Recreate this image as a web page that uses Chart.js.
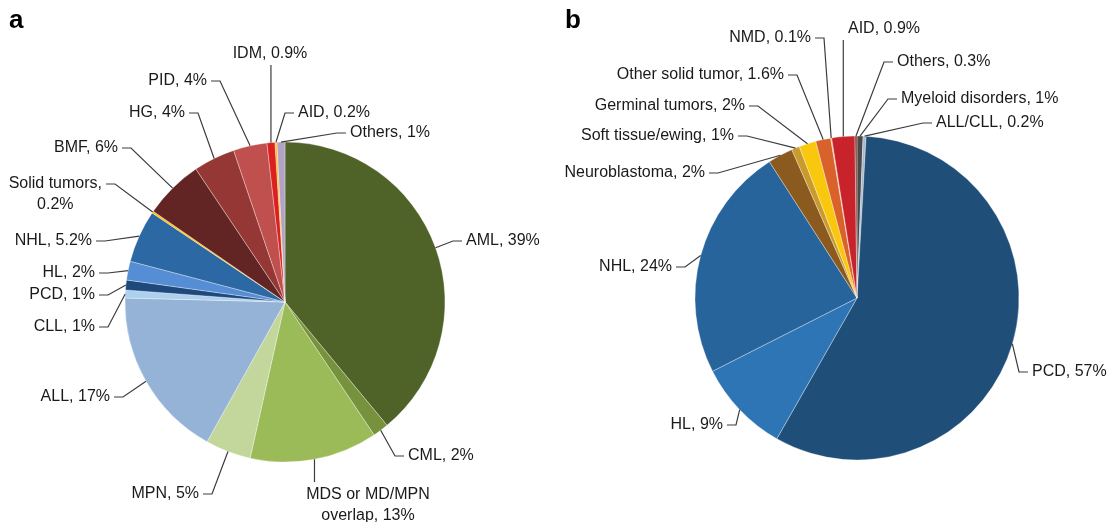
<!DOCTYPE html>
<html>
<head>
<meta charset="utf-8">
<script src="https://cdn.jsdelivr.net/npm/chart.js@4.4.1/dist/chart.umd.min.js"></script>
<style>
  html, body { margin: 0; padding: 0; background: #fff; }
  body { width: 1110px; height: 522px; position: relative; overflow: hidden; font-family: "Liberation Sans", Arial, sans-serif; }
  .panel { position: absolute; top: 0; width: 555px; height: 522px; }
  .tag { position: absolute; top: 6px; font-weight: bold; font-size: 26px; line-height: 26px; color: #000; }
</style>
</head>
<body>
<div class="panel" style="left:0"><canvas id="chartA" width="555" height="522"></canvas></div>
<div class="panel" style="left:555px"><canvas id="chartB" width="555" height="522"></canvas></div>
<div class="tag" style="left:9px">a</div>
<div class="tag" style="left:565px">b</div>

<script>
// panel a - clockwise from 12 o'clock
const categoriesA = ['AML', 'CML', 'MDS or MD/MPN overlap', 'MPN', 'ALL', 'CLL', 'PCD', 'HL', 'NHL',
  'Solid tumors', 'BMF', 'HG', 'PID', 'IDM', 'AID', 'Others'];
const valuesA = [39, 1.6, 12.9, 4.6, 17.3, 0.8, 1, 1.9, 5.3, 0.2, 6, 4.2, 3.4, 0.8, 0.2, 0.8];
const labelTextA = ['AML, 39%', 'CML, 2%', 'MDS or MD/MPN\noverlap, 13%', 'MPN, 5%', 'ALL, 17%', 'CLL, 1%',
  'PCD, 1%', 'HL, 2%', 'NHL, 5.2%', 'Solid tumors,\n0.2%', 'BMF, 6%', 'HG, 4%', 'PID, 4%', 'IDM, 0.9%',
  'AID, 0.2%', 'Others, 1%'];

// panel b - clockwise from 12 o'clock
const categoriesB = ['Myeloid disorders', 'ALL/CLL', 'PCD', 'HL', 'NHL', 'Neuroblastoma', 'Soft tissue/ewing',
  'Germinal tumors', 'Other solid tumor', 'NMD', 'AID', 'Others'];
const valuesB = [0.6, 0.3, 57.4, 9.3, 23.4, 2.5, 0.8, 1.7, 1.5, 0.1, 2.3, 0.2];
const labelTextB = ['Myeloid disorders, 1%', 'ALL/CLL, 0.2%', 'PCD, 57%', 'HL, 9%', 'NHL, 24%',
  'Neuroblastoma, 2%', 'Soft tissue/ewing, 1%', 'Germinal tumors, 2%', 'Other solid tumor, 1.6%',
  'NMD, 0.1%', 'AID, 0.9%', 'Others, 0.3%'];

const colorsA = ['#4f6228', '#76923c', '#9bbb59', '#c3d69b', '#95b3d7', '#acd0ee', '#1f497d', '#558ed5',
  '#2c68a4', '#ffc000', '#632523', '#953735', '#c0504d', '#dc1f1f', '#ffc000', '#b3a2c7'];
const colorsB = ['#4a4a4a', '#a9b9cc', '#1f4e79', '#2e75b6', '#28649c', '#8b5a1e', '#c99a2e', '#f9c80e',
  '#d9622b', '#f4b183', '#c8232b', '#8a3a3a'];

// label placement, offsets from pie centre: [dx, dy, side]
const labelPosA = [[181, -61, 'l'], [123, 154, 'l'], [83, 193, 'd'], [-86, 192, 'r'], [-175, 95, 'r'],
  [-190, 25, 'r'], [-190, -7, 'r'], [-190, -29, 'r'], [-193, -61, 'r'], [-183, -118, 'r'],
  [-167, -154, 'r'], [-100, -189, 'r'], [-78, -221, 'r'], [-15, -248, 'u'], [13, -189, 'l'], [65, -169, 'l']];
const labelPosB = [[44, -199, 'l'], [79, -175, 'l'], [175, 74, 'l'], [-134, 127, 'r'], [-185, -31, 'r'],
  [-152, -125, 'r'], [-123, -162, 'r'], [-112, -192, 'r'], [-73, -223, 'r'], [-46, -260, 'r'],
  [27, -269, 'u'], [40, -236, 'l']];

function leaderLabels(texts, pos) {
  return {
    id: 'leaderLabels',
    afterDatasetsDraw(chart) {
      const ctx = chart.ctx;
      const arcs = chart.getDatasetMeta(0).data;
      ctx.save();
      ctx.font = '16px "Liberation Sans", Arial, sans-serif';
      ctx.fillStyle = '#1a1a1a';
      ctx.strokeStyle = '#3c3c3c';
      ctx.lineWidth = 1.2;
      ctx.textBaseline = 'middle';
      ctx.textAlign = 'center';
      texts.forEach((txt, i) => {
        const arc = arcs[i];
        const mid = (arc.startAngle + arc.endAngle) / 2;
        const ax = arc.x + Math.cos(mid) * arc.outerRadius;
        const ay = arc.y + Math.sin(mid) * arc.outerRadius;
        const tx = arc.x + pos[i][0], ty = arc.y + pos[i][1], side = pos[i][2];
        const lines = txt.split('\n');
        const widest = Math.max(...lines.map(l => ctx.measureText(l).width));
        let cx = tx;
        ctx.beginPath();
        ctx.moveTo(ax, ay);
        if (side === 'l') {
          ctx.lineTo(tx - 13, ty); ctx.lineTo(tx - 4, ty); cx = tx + widest / 2;
        } else if (side === 'r') {
          ctx.lineTo(tx + 13, ty); ctx.lineTo(tx + 4, ty); cx = tx - widest / 2;
        } else if (side === 'u') {
          ctx.lineTo(ax, ty + 11);
        } else {
          ctx.lineTo(ax, ty - 13);
        }
        ctx.stroke();
        lines.forEach((l, k) => ctx.fillText(l, cx, ty + k * 21));
      });
      ctx.restore();
    }
  };
}

function createPie(canvas, labels, data, colors, radius, padding, texts, pos) {
  return new Chart(canvas, {
    type: 'pie',
    data: {
      labels: labels,
      datasets: [{
        data: data,
        backgroundColor: colors,
        borderColor: 'rgba(255,255,255,0.55)',
        borderWidth: 0.6,
        radius: radius
      }]
    },
    options: {
      responsive: false,
      animation: false,
      layout: { padding: padding },
      plugins: {
        legend: { display: false },
        tooltip: { enabled: false }
      }
    },
    plugins: [leaderLabels(texts, pos)]
  });
}

createPie(document.getElementById('chartA'), categoriesA, valuesA, colorsA, 160,
  { left: 15, right: 0, top: 82, bottom: 0 }, labelTextA, labelPosA);
createPie(document.getElementById('chartB'), categoriesB, valuesB, colorsB, 162,
  { left: 49, right: 0, top: 74, bottom: 0 }, labelTextB, labelPosB);
</script>
</body>
</html>
